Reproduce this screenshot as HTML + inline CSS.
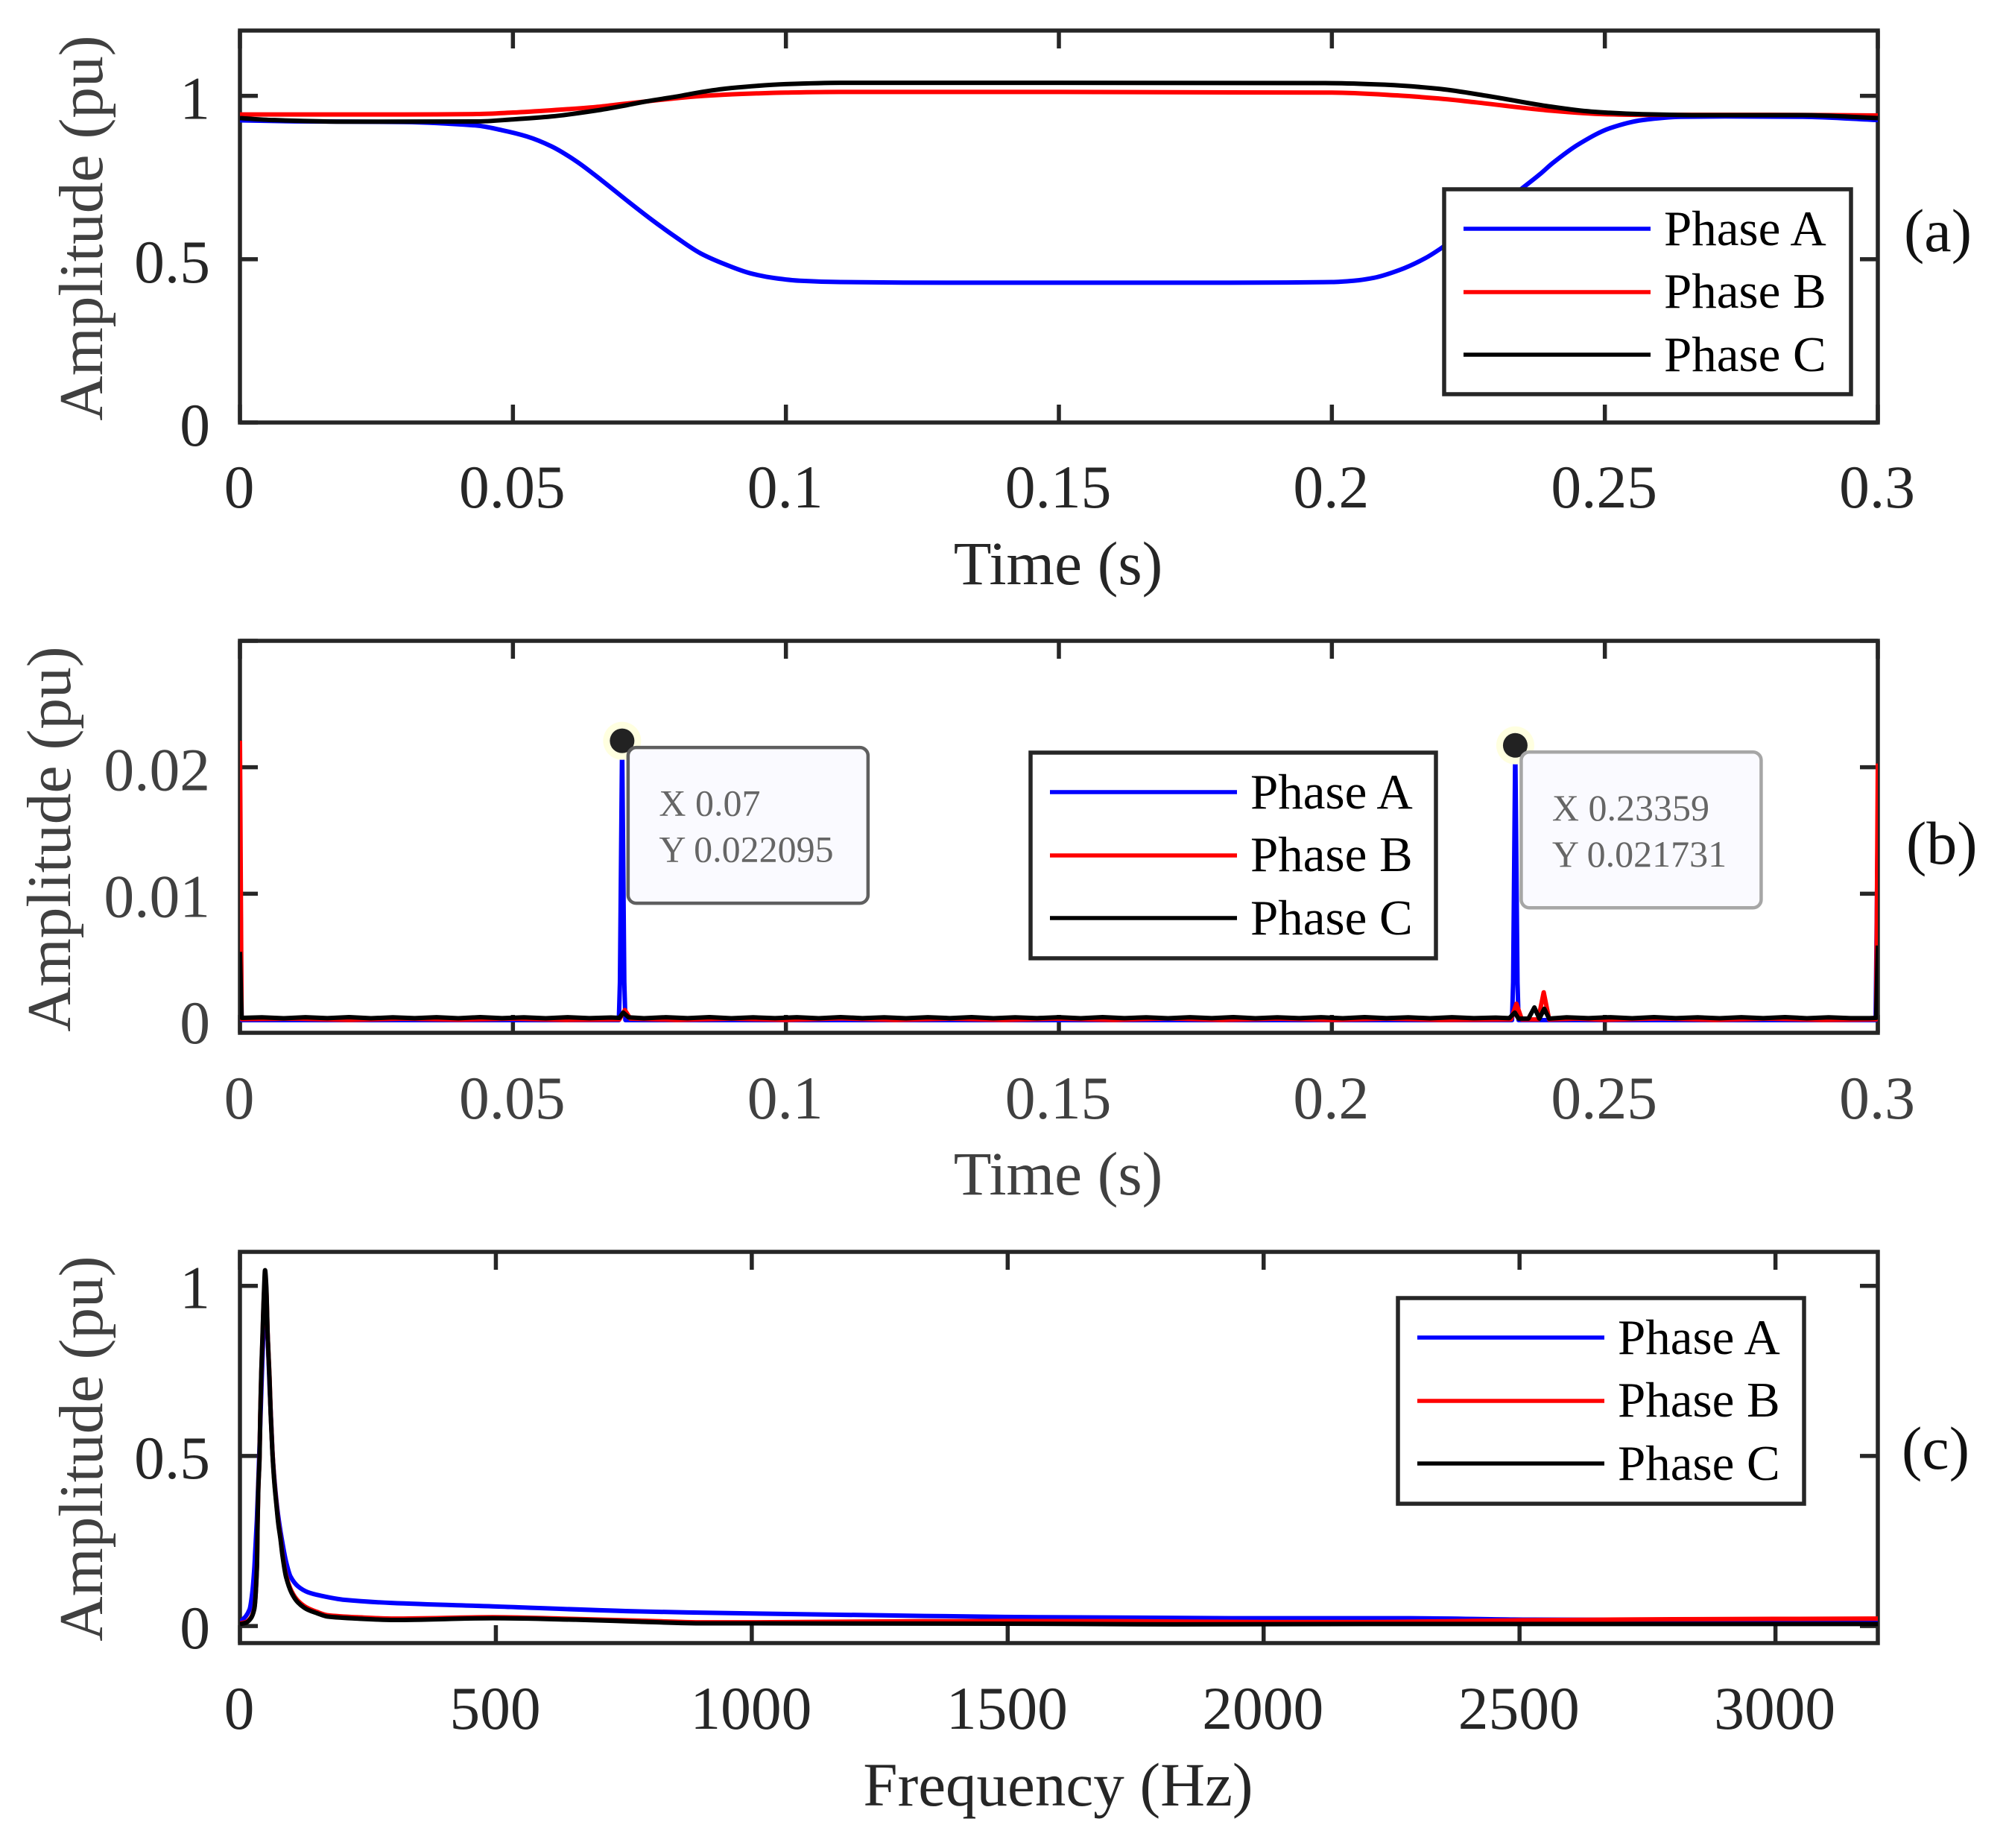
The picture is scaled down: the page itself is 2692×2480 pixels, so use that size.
<!DOCTYPE html>
<html lang="en">
<head>
<meta charset="utf-8">
<title>Phase amplitude charts</title>
<style>
html,body{margin:0;padding:0;background:#fff}
svg{display:block}
text{font-family:"Liberation Serif",serif}
</style>
</head>
<body>
<svg id="figure" width="2692" height="2480" viewBox="0 0 2692 2480" xmlns="http://www.w3.org/2000/svg"></svg>
<script>
/* ---------- Tick labels ---------- */
const timeTicks = [0, 0.05, 0.1, 0.15, 0.2, 0.25, 0.3];
const freqTicks = [0, 500, 1000, 1500, 2000, 2500, 3000];
const ampTicksA = [0, 0.5, 1];
const ampTicksB = [0, 0.01, 0.02, 0.03];
const ampLabelsB = [0, 0.01, 0.02];
const ampTicksC = [0, 0.5, 1];

/* ---------- Panel (a): amplitude vs time ---------- */
const aTimeA = [0,0.01,0.03,0.0434,0.04795,0.0525,0.05705,0.0616,0.06616,0.0707,0.07525,0.0798,0.08435,0.0889,0.09345,0.098,0.1026,0.11,0.13,0.15,0.18,0.2,0.204,0.2077,0.2124,0.2171,0.2206,0.2255,0.2305,0.2347,0.2381,0.2405,0.2452,0.2511,0.2569,0.2639,0.272,0.2862,0.3];
const aValA = [0.925,0.922,0.92,0.909,0.895,0.876,0.8455,0.80,0.7427,0.682,0.623,0.568,0.518,0.484,0.457,0.442,0.434,0.43,0.428,0.428,0.428,0.43,0.434,0.443,0.467,0.503,0.54,0.597,0.66,0.715,0.76,0.795,0.852,0.902,0.926,0.936,0.937,0.936,0.926];
const aTimeB = [0,0.03,0.0434,0.05,0.05705,0.0652,0.07,0.0744,0.08,0.085,0.092,0.1,0.11,0.15,0.2,0.2124,0.2195,0.2265,0.2393,0.25,0.2569,0.28,0.3];
const aValB = [0.943,0.943,0.9444,0.949,0.956,0.966,0.975,0.983,0.993,1.0,1.006,1.01,1.012,1.012,1.01,1.001,0.992,0.98,0.956,0.944,0.942,0.942,0.94];
const aTimeC = [0,0.006,0.02,0.0434,0.05,0.05705,0.0652,0.0707,0.0744,0.08,0.085,0.09,0.1,0.11,0.15,0.2,0.21,0.2194,0.2288,0.2393,0.2475,0.2569,0.2686,0.2862,0.3];
const aValC = [0.932,0.926,0.921,0.9217,0.928,0.937,0.955,0.971,0.983,0.998,1.013,1.024,1.036,1.04,1.04,1.039,1.034,1.022,0.999,0.969,0.952,0.944,0.941,0.941,0.932];

/* ---------- Panel (b): detector output vs time ---------- */
const bTimeA = [0,0.0003,0.02,0.05,0.0694,0.0696,0.07,0.0704,0.0706,0.1,0.15,0.2,0.2330,0.2332,0.23359,0.234,0.2342,0.26,0.2996,0.3];
const bValA = [0.016,0,0,0,0,0.003,0.022095,0.003,0,0,0,0,0,0.003,0.021731,0.003,0,0,0,0.016];
const bTimeB = [0,0.0003,0.01,0.02,0.03,0.04,0.05,0.06,0.0695,0.0705,0.0715,0.08,0.09,0.1,0.11,0.12,0.13,0.14,0.15,0.16,0.17,0.18,0.19,0.2,0.21,0.22,0.2328,0.2338,0.2348,0.2378,0.2388,0.2398,0.245,0.25,0.26,0.27,0.28,0.29,0.2997,0.3];
const bValB = [0.0221,0.00008,0.00012,0.00002,0.00012,0.00004,0.00012,0.00002,0.00006,0.0008,0.00012,0.00002,0.00012,0.00002,0.00014,0.00002,0.00012,0.00002,0.00012,0.00002,0.00014,0.00002,0.00012,0.00002,0.00012,0.00002,0.00006,0.0013,0.00005,0.00005,0.0022,0.00005,0.00012,0.00002,0.00014,0.00002,0.00012,0.00002,0.00006,0.0203];
const bTimeC = [0,0.0003,0.004,0.008,0.012,0.016,0.02,0.024,0.028,0.032,0.036,0.04,0.044,0.048,0.052,0.056,0.06,0.064,0.068,0.0695,0.0702,0.0712,0.074,0.078,0.082,0.086,0.09,0.094,0.098,0.102,0.106,0.11,0.114,0.118,0.122,0.126,0.13,0.134,0.138,0.142,0.146,0.15,0.154,0.158,0.162,0.166,0.17,0.174,0.178,0.182,0.186,0.19,0.194,0.198,0.202,0.206,0.21,0.214,0.218,0.222,0.226,0.23,0.2325,0.2335,0.2342,0.236,0.2371,0.238,0.2389,0.2398,0.243,0.247,0.251,0.255,0.259,0.263,0.267,0.271,0.275,0.279,0.283,0.287,0.291,0.295,0.2985,0.2997,0.3];
const bValC = [0.0054,0.00018,0.00022,0.00015,0.00023,0.00016,0.00024,0.00015,0.00022,0.00016,0.00023,0.00015,0.00024,0.00016,0.00022,0.00015,0.00023,0.00016,0.00021,0.00018,0.0006,0.00022,0.00015,0.00023,0.00016,0.00024,0.00015,0.00022,0.00016,0.00023,0.00015,0.00024,0.00016,0.00022,0.00015,0.00023,0.00016,0.00024,0.00015,0.00022,0.00016,0.00023,0.00015,0.00024,0.00016,0.00022,0.00015,0.00023,0.00016,0.00024,0.00015,0.00022,0.00016,0.00023,0.00015,0.00024,0.00016,0.00022,0.00015,0.00023,0.00016,0.0002,0.00016,0.0006,0.00012,0.00012,0.001,0.00012,0.0009,0.00012,0.00022,0.00016,0.00023,0.00015,0.00024,0.00016,0.00022,0.00015,0.00023,0.00016,0.00024,0.00015,0.00022,0.00016,0.00016,0.00018,0.0059];

/* ---------- Panel (c): amplitude spectrum ---------- */
const cFreqA = [0,6,11,19,24,28,30,33,36,39,42,45,48,50,52,55,58,61,64,68,73,77,81.8,90,99,114,132,156,205,296,494,781,1000,1281,1491,1951,2287,2523,2900,3200];
const cValA = [0.01,0.02,0.028,0.05,0.097,0.168,0.224,0.31,0.43,0.56,0.7,0.83,0.92,0.945,0.92,0.82,0.7,0.6,0.5,0.42,0.345,0.3,0.255,0.19,0.145,0.116,0.1,0.09,0.077,0.068,0.058,0.043,0.037,0.031,0.027,0.023,0.023,0.019,0.018,0.018];
const cFreqB = [0,12,21,28,33.4,34.4,35.8,38.3,39.7,41.7,44,45.6,47.5,49,51.4,54.3,57.7,60,63.4,67.3,71,75,79,83,90,101,113,130,150,171,229,302,494,656,781,906,1000,1300,1500,1750,2000,2200,2500,2800,3200];
const cValB = [0.008,0.012,0.024,0.052,0.185,0.3,0.4,0.5,0.62,0.74,0.84,0.92,0.99,1.02,0.99,0.85,0.735,0.63,0.515,0.425,0.365,0.305,0.262,0.212,0.15,0.102,0.075,0.055,0.042,0.032,0.026,0.022,0.026,0.021,0.016,0.011,0.011,0.014,0.015,0.014,0.012,0.012,0.017,0.02,0.022];
const cFreqC = [0,12,21,28,33.4,34.4,35.8,38.3,39.7,41.7,44,45.6,47.5,49,51.4,54.3,57.7,60,63.4,67.3,71,75,79,83,90,101,113,130,150,171,229,302,494,656,781,906,1000,1500,1826,2200,2600,3200];
const cValC = [0.006,0.01,0.022,0.05,0.183,0.3,0.4,0.496,0.62,0.746,0.848,0.926,1.004,1.046,1.0,0.848,0.73,0.625,0.51,0.42,0.36,0.3,0.258,0.208,0.145,0.097,0.07,0.05,0.038,0.028,0.022,0.018,0.023,0.0186,0.0128,0.008,0.008,0.007,0.005,0.006,0.006,0.006];

/* ---------- Data tips ---------- */
const tipX = [0.07, 0.23359];
const tipY = [0.022095, 0.021731];

/* ---------- Helpers ---------- */
const NS = 'http://www.w3.org/2000/svg';
const svg = document.getElementById('figure');
function mk(tag, attrs, parent, content) {
  const el = document.createElementNS(NS, tag);
  for (const k in attrs) el.setAttribute(k, attrs[k]);
  if (content !== undefined) el.textContent = content;
  parent.appendChild(el);
  return el;
}
function scale(d0, d1, r0, r1) {
  return v => r0 + (v - d0) * (r1 - r0) / (d1 - d0);
}
/* monotone cubic path through pixel points */
function monotonePath(px, py) {
  const n = px.length;
  const s = [], m = [];
  for (let i = 0; i < n - 1; i++) s.push((py[i + 1] - py[i]) / (px[i + 1] - px[i]));
  m.push(s[0]);
  for (let i = 1; i < n - 1; i++) {
    m.push(s[i - 1] * s[i] <= 0 ? 0 : 2 * s[i - 1] * s[i] / (s[i - 1] + s[i]));
  }
  m.push(s[n - 2]);
  let d = 'M' + px[0].toFixed(2) + ' ' + py[0].toFixed(2);
  for (let i = 0; i < n - 1; i++) {
    const h = (px[i + 1] - px[i]) / 3;
    d += 'C' + (px[i] + h).toFixed(2) + ' ' + (py[i] + m[i] * h).toFixed(2) + ' ' +
         (px[i + 1] - h).toFixed(2) + ' ' + (py[i + 1] - m[i + 1] * h).toFixed(2) + ' ' +
         px[i + 1].toFixed(2) + ' ' + py[i + 1].toFixed(2);
  }
  return d;
}
const AXIS = '#262626';
const L = 322, R = 2520;
const AXW = 5.5;

function panel(cfg) {
  const g = mk('g', {}, svg);
  
  
  const x = scale(cfg.xMin, cfg.xMax, L, R);
  const y = scale(cfg.yMin, cfg.yMax, cfg.bottom, cfg.top);

  /* plot frame */
  const frame = mk('rect', {x: L, y: cfg.top, width: R - L, height: cfg.bottom - cfg.top, fill: '#fff', stroke: AXIS, 'stroke-width': AXW}, g);
  
  

  /* x ticks, both edges, and labels */
  cfg.xTicks.forEach(v => {
    const px = x(v);
    const t1 = mk('line', {x1: px, x2: px, y1: cfg.bottom, y2: cfg.bottom - 24, stroke: AXIS, 'stroke-width': AXW}, g);
    
    
    const t2 = mk('line', {x1: px, x2: px, y1: cfg.top, y2: cfg.top + 24, stroke: AXIS, 'stroke-width': AXW}, g);
    
    
    const lb = mk('text', {x: px - 1, y: cfg.xLabelY, 'text-anchor': 'middle', 'font-size': 81.5, fill: cfg.tickColor}, g, String(v));
    
    
  });

  /* y ticks, both edges */
  cfg.yTicks.forEach(v => {
    const py = y(v);
    const t1 = mk('line', {x1: L, x2: L + 24, y1: py, y2: py, stroke: AXIS, 'stroke-width': AXW}, g);
    
    
    const t2 = mk('line', {x1: R, x2: R - 24, y1: py, y2: py, stroke: AXIS, 'stroke-width': AXW}, g);
    
    
  });
  cfg.yLabels.forEach(v => {
    const lb = mk('text', {x: 282, y: y(v) + cfg.yLabelDy, 'text-anchor': 'end', 'font-size': 81.5, fill: cfg.tickColor}, g, String(v));
    
    
  });

  /* axis titles */
  const xt = mk('text', {x: (L + R) / 2 - 1, y: cfg.xTitleY, 'text-anchor': 'middle', 'font-size': 83, fill: cfg.tickColor}, g, cfg.xTitle);
  
  
  const yt = mk('text', {transform: 'translate(' + cfg.yTitleX + ' ' + cfg.yTitleCY + ') rotate(-90)', 'text-anchor': 'middle', 'font-size': 83.5, fill: '#404040'}, g, 'Amplitude (pu)');
  
  

  /* series */
  const clipId = 'clip-' + cfg.id;
  const defs = mk('defs', {}, g);
  const cp = mk('clipPath', {id: clipId}, defs);
  mk('rect', {x: L, y: cfg.top, width: R - L, height: cfg.bottom - cfg.top}, cp);
  cfg.series.forEach(s => {
    const px = s.xs.map(x);
    const py = s.ys.map(y);
    let line;
    if (cfg.smooth) {
      line = mk('path', {d: monotonePath(px, py), fill: 'none', stroke: s.color, 'stroke-width': 6, 'stroke-linejoin': 'round', 'clip-path': 'url(#' + clipId + ')'}, g);
    } else {
      const pts = px.map((v, i) => v.toFixed(2) + ',' + py[i].toFixed(2)).join(' ');
      line = mk('polyline', {points: pts, fill: 'none', stroke: s.color, 'stroke-width': 6, 'stroke-linejoin': 'round', 'clip-path': 'url(#' + clipId + ')'}, g);
    }
    
    
  });

  /* panel tag */
  const tag = mk('text', {x: cfg.tagX, y: cfg.tagY, 'font-size': 82, fill: '#111'}, g, cfg.tag);
  
  

  return {g, x, y};
}

function legend(parent, box, id) {
  const lg = mk('g', {}, parent);
  
  
  const r = mk('rect', {x: box.x, y: box.y, width: box.w, height: box.h, fill: '#fff', stroke: AXIS, 'stroke-width': AXW}, lg);
  
  
  const names = ['Phase A', 'Phase B', 'Phase C'];
  const colors = ['#0000ff', '#ff0000', '#000000'];
  const lineY = [53, 138, 222];
  const textY = [75, 159, 244];
  names.forEach((n, i) => {
    const sw = mk('line', {x1: box.x + 26, x2: box.x + 277, y1: box.y + lineY[i], y2: box.y + lineY[i], stroke: colors[i], 'stroke-width': 5.5}, lg);
    
    
    const tx = mk('text', {x: box.x + 295, y: box.y + textY[i], 'font-size': 67, fill: '#000'}, lg, n);
    
    
  });
}

/* ---------- Build panels ---------- */
const pa = panel({
  id: 'a', top: 41, bottom: 567, xMin: 0, xMax: 0.3, yMin: 0, yMax: 1.2, smooth: true, yLabelDy: 31,
  xTicks: timeTicks, yTicks: ampTicksA, yLabels: ampTicksA, tickColor: '#262626',
  xLabelY: 681, xTitle: 'Time (s)', xTitleY: 784, yTitleX: 137, yTitleCY: 306,
  tag: '(a)', tagX: 2555, tagY: 337,
  series: [
    {name: 'phase-a', color: '#0000ff', xs: aTimeA, ys: aValA},
    {name: 'phase-b', color: '#ff0000', xs: aTimeB, ys: aValB},
    {name: 'phase-c', color: '#000000', xs: aTimeC, ys: aValC}
  ]
});
legend(pa.g, {x: 1938, y: 254, w: 546, h: 275}, 'a');

const pb = panel({
  id: 'b', top: 860, bottom: 1386, xMin: 0, xMax: 0.3, yMin: -0.001, yMax: 0.03, smooth: false, yLabelDy: 31,
  xTicks: timeTicks, yTicks: ampTicksB, yLabels: ampLabelsB, tickColor: '#404040',
  xLabelY: 1501, xTitle: 'Time (s)', xTitleY: 1603, yTitleX: 94, yTitleCY: 1126,
  tag: '(b)', tagX: 2558, tagY: 1159,
  series: [
    {name: 'phase-a', color: '#0000ff', xs: bTimeA, ys: bValA},
    {name: 'phase-b', color: '#ff0000', xs: bTimeB, ys: bValB},
    {name: 'phase-c', color: '#000000', xs: bTimeC, ys: bValC}
  ]
});
legend(pb.g, {x: 1383, y: 1010, w: 544, h: 276}, 'b');

/* data tips */
const tipBorders = ['#5f5f5f', '#a6a6a6'];
tipX.forEach((tx, i) => {
  const mx = pb.x(tx), my = pb.y(tipY[i]);
  const tg = mk('g', {}, pb.g);
  
  
  const halo = mk('circle', {cx: mx, cy: my, r: 25.5, fill: '#ffffe0'}, tg);
  
  
  const dot = mk('circle', {cx: mx, cy: my, r: 16.5, fill: '#222222'}, tg);
  
  
  const box = mk('rect', {x: mx + 8, y: my + 9, width: 322, height: 209, rx: 11, ry: 11, fill: '#fafaff', stroke: tipBorders[i], 'stroke-width': 4.5}, tg);
  
  
  const t1 = mk('text', {x: mx + 49.5, y: my + 100.5, 'font-size': 50, fill: '#666666'}, tg, 'X ' + tx);
  
  
  const t2 = mk('text', {x: mx + 49.5, y: my + 162.5, 'font-size': 50, fill: '#666666'}, tg, 'Y ' + tipY[i]);
  
  
});

const pc = panel({
  id: 'c', top: 1680, bottom: 2205, xMin: 0, xMax: 3200, yMin: -0.05, yMax: 1.1, smooth: true, yLabelDy: 30,
  xTicks: freqTicks, yTicks: ampTicksC, yLabels: ampTicksC, tickColor: '#262626',
  xLabelY: 2320, xTitle: 'Frequency (Hz)', xTitleY: 2423, yTitleX: 137, yTitleCY: 1944,
  tag: '(c)', tagX: 2552, tagY: 1971,
  series: [
    {name: 'phase-a', color: '#0000ff', xs: cFreqA, ys: cValA},
    {name: 'phase-b', color: '#ff0000', xs: cFreqB, ys: cValB},
    {name: 'phase-c', color: '#000000', xs: cFreqC, ys: cValC}
  ]
});
legend(pc.g, {x: 1876, y: 1742, w: 545, h: 276}, 'c');
</script>
</body>
</html>
